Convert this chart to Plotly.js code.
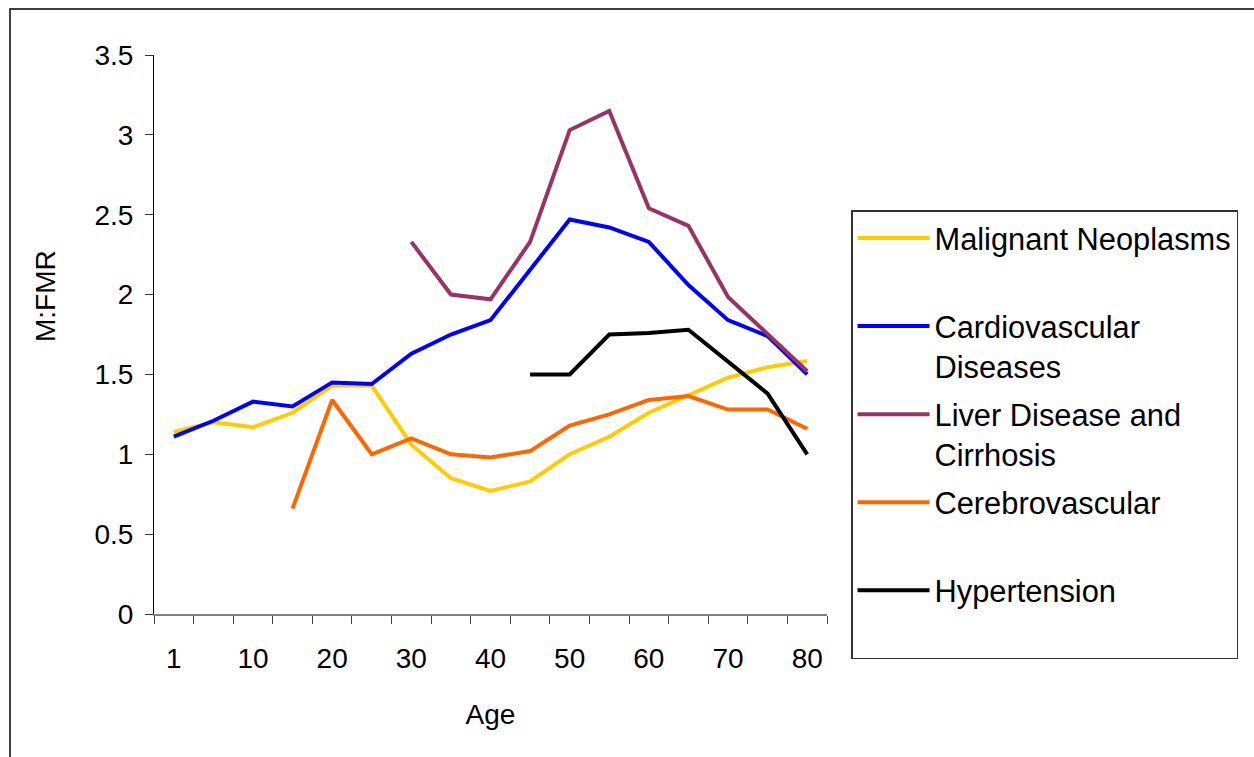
<!DOCTYPE html>
<html>
<head>
<meta charset="utf-8">
<script src="https://cdn.plot.ly/plotly-3.0.1.min.js"></script>
<style>
  html, body { margin: 0; padding: 0; background: #ffffff; overflow: hidden; }
  #chart { width: 1254px; height: 757px; }
</style>
</head>
<body>
<div id="chart"></div>
<script>
// Age categories and tick labels
const ages = ['1','5','10','15','20','25','30','35','40','45','50','55','60','65','70','75','80'];
const ageTickText = ['1','','10','','20','','30','','40','','50','','60','','70','','80'];

// M:F mortality ratio by cause
const malignantNeoplasms = [1.14,1.20,1.17,1.26,1.43,1.43,1.06,0.85,0.77,0.83,1.00,1.11,1.26,1.37,1.48,1.545,1.585];
const cardiovascular     = [1.11,1.21,1.33,1.30,1.45,1.44,1.63,1.75,1.84,2.15,2.47,2.42,2.33,2.06,1.84,1.74,1.50];
const liverCirrhosis     = [null,null,null,null,null,null,2.33,2.00,1.97,2.33,3.03,3.15,2.54,2.43,1.985,1.75,1.52];
const cerebrovascular    = [null,null,null,0.66,1.34,1.00,1.10,1.00,0.98,1.02,1.18,1.25,1.34,1.365,1.28,1.28,1.16];
const hypertension       = [null,null,null,null,null,null,null,null,null,1.50,1.50,1.75,1.76,1.78,1.58,1.38,1.00];

const seriesNames = ['Malignant Neoplasms<br> ', 'Cardiovascular<br>Diseases', 'Liver Disease and<br>Cirrhosis', 'Cerebrovascular<br> ', 'Hypertension<br> '];
const seriesData = [malignantNeoplasms, cardiovascular, liverCirrhosis, cerebrovascular, hypertension];
const seriesColors = ['#FFCC00', '#0000FF', '#993366', '#FF6600', '#000000'];

const FONT = 'Liberation Sans, Arial, Helvetica, sans-serif';

const traces = seriesData.map((d, i) => ({
  type: 'scatter',
  mode: 'lines',
  x: ages,
  y: d,
  name: seriesNames[i],
  legendgroup: 'g' + i,
  connectgaps: false,
  line: { color: seriesColors[i], width: 4 },
  hoverinfo: 'x+y'
}));

// plot area in pixels: x 154..827, y 55..614
const W = 1254, H = 757;
const L = 154, R = 827, T = 55, B = 614;
const pw = R - L, ph = B - T;
const px = v => (v - L) / pw;
const py = v => (B - v) / ph;

const layout = {
  width: W, height: H,
  margin: { l: L, r: W - R, t: T, b: H - B, pad: 0 },
  paper_bgcolor: '#ffffff',
  plot_bgcolor: '#ffffff',
  font: { family: FONT, size: 28, color: '#000000' },
  showlegend: true,
  legend: {
    x: px(851), y: py(210), xanchor: 'left', yanchor: 'top',
    bordercolor: '#333333', borderwidth: 1.5,
    bgcolor: '#ffffff',
    font: { family: FONT, size: 30.8, color: '#000000' },
    valign: 'top',
    itemwidth: 72,
    tracegroupgap: 5,
    traceorder: 'grouped'
  },
  xaxis: {
    type: 'category',
    range: [-0.5, 16.5],
    tickmode: 'array',
    tickvals: ages,
    ticktext: ageTickText,
    tickangle: 0,
    tickson: 'boundaries',
    ticks: 'outside', ticklen: 8, tickwidth: 1, tickcolor: '#444444',
    showline: true, linecolor: '#808080', linewidth: 2,
    showgrid: false, zeroline: false,
    tickfont: { family: FONT, size: 28, color: '#000000' },
    ticklabelstandoff: 18,
    title: { text: 'Age', font: { family: FONT, size: 28, color: '#000000' }, standoff: 32 },
    fixedrange: true
  },
  yaxis: {
    range: [0, 3.5],
    tickmode: 'linear', tick0: 0, dtick: 0.5,
    ticks: 'outside', ticklen: 8, tickwidth: 1, tickcolor: '#333333',
    showline: true, linecolor: '#000000', linewidth: 1,
    showgrid: false, zeroline: false,
    tickfont: { family: FONT, size: 28, color: '#000000' },
    ticklabelstandoff: 6,
    fixedrange: true
  },
  annotations: [{
    text: 'M:FMR',
    xref: 'paper', yref: 'paper',
    x: px(45), y: py(296),
    xanchor: 'center', yanchor: 'middle',
    textangle: -90,
    showarrow: false,
    font: { family: FONT, size: 28, color: '#000000' }
  }],
  shapes: [{
    type: 'rect', xref: 'paper', yref: 'paper',
    x0: px(10), x1: px(1300), y0: py(800), y1: py(9),
    line: { color: '#000000', width: 1.5 },
    fillcolor: 'rgba(0,0,0,0)',
    layer: 'below'
  }]
};

Plotly.newPlot('chart', traces, layout, { displayModeBar: false, staticPlot: true });
</script>
</body>
</html>
